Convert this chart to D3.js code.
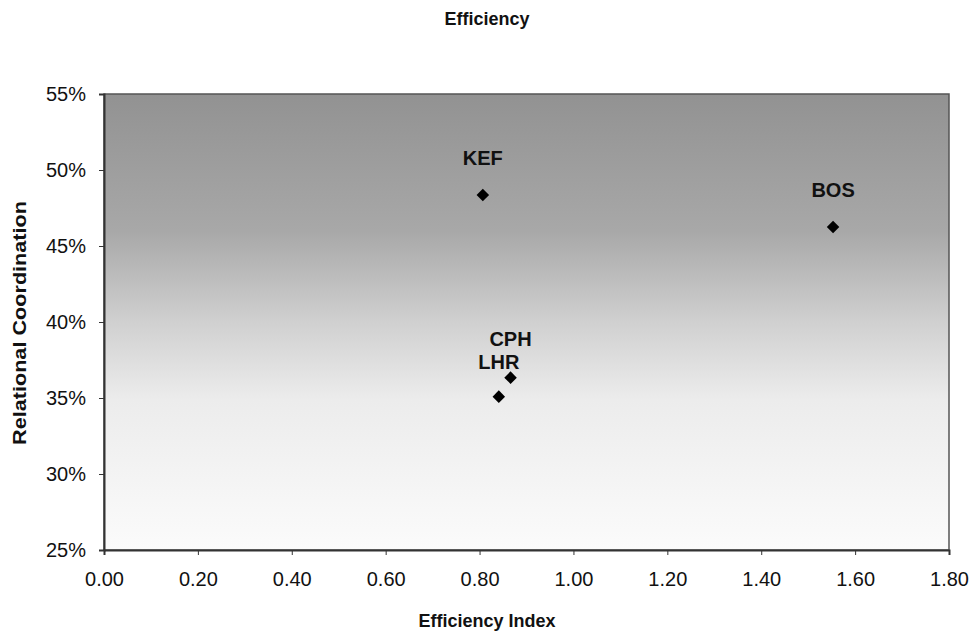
<!DOCTYPE html>
<html>
<head>
<meta charset="utf-8">
<script src="https://cdn.jsdelivr.net/npm/d3@7"></script>
<style>
  body { margin: 0; background: #fff; }
  text { font-family: "Liberation Sans", Arial, sans-serif; fill: #111; }
</style>
</head>
<body>
<script>
// airports and their scores
var airports = ["KEF", "BOS", "CPH", "LHR"];
var efficiency = [0.807, 1.553, 0.866, 0.841];
var coordination = [0.4836, 0.4625, 0.3634, 0.3509];

var xTicks = [0, 0.2, 0.4, 0.6, 0.8, 1.0, 1.2, 1.4, 1.6, 1.8];
var yTicks = [0.25, 0.30, 0.35, 0.40, 0.45, 0.50, 0.55];

var margin = {top: 94, bottom: 83, left: 104, right: 23};

var width = 972 - margin.left - margin.right,
    height = 633 - margin.top - margin.bottom;

var svg = d3.select("body")
            .append("svg")
              .attr("width", 972)
              .attr("height", 633);

var defs = svg.append("defs");
var grad = defs.append("linearGradient")
               .attr("id", "bg")
               .attr("x1", 0).attr("y1", 0)
               .attr("x2", 0).attr("y2", 1);
grad.append("stop").attr("offset", "0%").attr("stop-color", "#929292");
grad.append("stop").attr("offset", "30%").attr("stop-color", "#a8a8a8");
grad.append("stop").attr("offset", "50%").attr("stop-color", "#d0d0d0");
grad.append("stop").attr("offset", "67%").attr("stop-color", "#ececec");
grad.append("stop").attr("offset", "100%").attr("stop-color", "#fbfbfb");

var g = svg.append("g")
           .attr("transform", "translate(" + margin.left + "," + margin.top + ")");

var x = d3.scaleLinear().domain([0, 1.8]).range([0, width]);
var y = d3.scaleLinear().domain([0.25, 0.55]).range([height, 0]);

g.append("rect")
  .attr("width", width)
  .attr("height", height)
  .attr("fill", "url(#bg)")
  .attr("stroke", "#555")
  .attr("stroke-width", 1.5);

var xAxis = g.append("g")
  .attr("transform", "translate(0," + height + ")")
  .call(d3.axisBottom(x).tickValues(xTicks).tickFormat(d3.format(".2f")).tickSize(5).tickPadding(17));

var yAxis = g.append("g")
  .call(d3.axisLeft(y).tickValues(yTicks).tickFormat(d3.format(".0%")).tickSize(5).tickPadding(13));

[xAxis, yAxis].forEach(function(a) {
  a.selectAll("text").style("font-size", "20px").attr("fill", "#111");
  a.selectAll("line").attr("stroke", "#333");
  a.select(".domain").attr("stroke", "#333").attr("stroke-width", 2);
});

var pts = airports.map(function(a, i) {
  return {name: a, x: efficiency[i], y: coordination[i]};
});

g.selectAll("path.pt")
  .data(pts)
  .enter()
  .append("path")
  .attr("class", "pt")
  .attr("d", d3.symbol().type(d3.symbolDiamond2).size(100))
  .attr("transform", function(d) { return "translate(" + x(d.x) + "," + y(d.y) + ")"; })
  .attr("fill", "#000");

// CPH and LHR labels sit close together, nudge them apart a little
function labelGap(name) {
  if (name == "CPH") return 32;
  if (name == "LHR") return 28;
  return 30;
}

g.selectAll("text.lbl")
  .data(pts)
  .enter()
  .append("text")
  .attr("class", "lbl")
  .attr("x", function(d) { return x(d.x); })
  .attr("y", function(d) { return y(d.y) - labelGap(d.name); })
  .attr("text-anchor", "middle")
  .style("font-size", "20px")
  .style("font-weight", "bold")
  .text(function(d) { return d.name; });

svg.append("text")
  .attr("x", 487).attr("y", 25)
  .attr("text-anchor", "middle")
  .style("font-size", "18px").style("font-weight", "bold")
  .text("Efficiency");

svg.append("text")
  .attr("x", 487).attr("y", 627)
  .attr("text-anchor", "middle")
  .style("font-size", "18px").style("font-weight", "bold")
  .text("Efficiency Index");

svg.append("text")
  .attr("transform", "translate(26,323) rotate(-90)")
  .attr("text-anchor", "middle")
  .attr("textLength", 244)
  .attr("lengthAdjust", "spacingAndGlyphs")
  .style("font-size", "19px").style("font-weight", "bold")
  .text("Relational Coordination");
</script>
</body>
</html>
